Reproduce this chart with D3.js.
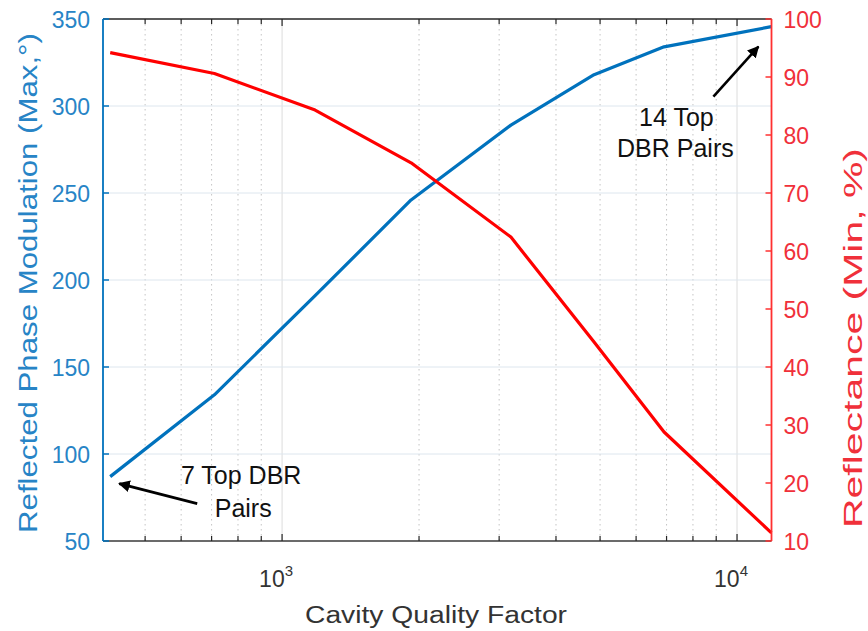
<!DOCTYPE html>
<html>
<head>
<meta charset="utf-8">
<script src="https://cdn.jsdelivr.net/npm/d3@7"></script>
<style>
  html, body { margin: 0; padding: 0; background: #fff; }
  svg { display: block; }
  text { font-family: "Liberation Sans", Arial, sans-serif; }
</style>
</head>
<body>
<svg id="chart" width="868" height="631"></svg>
<script>
// Cavity quality factor for 7 … 14 top DBR pairs
const qualityFactor = [419, 710, 1182, 1921, 3184, 4850, 6912, 11900];
// Maximum reflected phase modulation (degrees)
const phaseMax = [87, 134, 191, 246, 289, 318, 334, 345.6];
// Minimum reflectance (%)
const reflectanceMin = [94.2, 90.6, 84.3, 75.2, 62.4, 44.3, 28.8, 11.4];

const leftTicks = [50, 100, 150, 200, 250, 300, 350];
const rightTicks = [10, 20, 30, 40, 50, 60, 70, 80, 90, 100];
const xMajorTicks = [1e3, 1e4];
const xMinorTicks = [500, 600, 700, 800, 900, 2000, 3000, 4000, 5000, 6000, 7000, 8000, 9000];

const W = 868, H = 631;
const m = { left: 103, right: 96.5, top: 19, bottom: 90 };
const x0 = m.left, x1 = W - m.right, y0 = m.top, y1 = H - m.bottom;

const BLUE = "#0072BD", BLUE_TXT = "#2784c6";
const RED = "#ff0000", RED_TXT = "#f0303a";

const svg = d3.select("#chart");

const x = d3.scaleLog().domain([404, 11906]).range([x0, x1]);
const yL = d3.scaleLinear().domain([50, 350]).range([y1, y0]);
const yR = d3.scaleLinear().domain([10, 100]).range([y1, y0]);

// grid
const grid = svg.append("g");
grid.selectAll(".gm").data(xMinorTicks).join("line")
  .attr("x1", d => x(d)).attr("x2", d => x(d)).attr("y1", y0).attr("y2", y1)
  .attr("stroke", "#c4c4c4").attr("stroke-width", 1).attr("stroke-dasharray", "1.5,3.5");
grid.selectAll(".gM").data(xMajorTicks).join("line")
  .attr("x1", d => x(d)).attr("x2", d => x(d)).attr("y1", y0).attr("y2", y1)
  .attr("stroke", "#dcdcdc").attr("stroke-width", 1);
grid.selectAll(".gh").data(leftTicks.slice(1, -1)).join("line")
  .attr("x1", x0).attr("x2", x1).attr("y1", d => yL(d)).attr("y2", d => yL(d))
  .attr("stroke", "#dde6ee").attr("stroke-width", 1);

// data lines
const line = (ys, sy) => d3.line().x((d, i) => x(qualityFactor[i])).y(d => sy(d))(ys);
svg.append("path").attr("d", line(phaseMax, yL))
  .attr("fill", "none").attr("stroke", BLUE).attr("stroke-width", 3.2).attr("stroke-linejoin", "round");
svg.append("path").attr("d", line(reflectanceMin, yR))
  .attr("fill", "none").attr("stroke", RED).attr("stroke-width", 3.2).attr("stroke-linejoin", "round");

// top and bottom axes (log scale, inward ticks)
const allX = xMajorTicks.concat(xMinorTicks);
const axes = svg.append("g");
axes.append("line").attr("x1", x0).attr("x2", x1).attr("y1", y0).attr("y2", y0)
  .attr("stroke", "#262626").attr("stroke-width", 1.3);
axes.append("line").attr("x1", x0).attr("x2", x1).attr("y1", y1).attr("y2", y1)
  .attr("stroke", "#3a3a3a").attr("stroke-width", 1.6);
axes.selectAll(".tt").data(allX).join("line")
  .attr("x1", d => x(d)).attr("x2", d => x(d)).attr("y1", y0).attr("y2", d => y0 + (xMajorTicks.includes(d) ? 7 : 5))
  .attr("stroke", "#262626").attr("stroke-width", 1.2);
axes.selectAll(".bt").data(allX).join("line")
  .attr("x1", d => x(d)).attr("x2", d => x(d)).attr("y1", y1).attr("y2", d => y1 - (xMajorTicks.includes(d) ? 7 : 5))
  .attr("stroke", "#262626").attr("stroke-width", 1.2);

// x tick labels 10^n
const xl = axes.selectAll(".xl").data(xMajorTicks).join("text")
  .attr("x", d => x(d) - 6).attr("y", y1 + 46)
  .attr("text-anchor", "middle").attr("fill", "#333").attr("font-size", 23);
xl.append("tspan").text("10");
xl.append("tspan").attr("dy", -11).attr("font-size", 15).text(d => Math.round(Math.log10(d)));

// left axis (blue)
axes.append("line").attr("x1", x0).attr("x2", x0).attr("y1", y0).attr("y2", y1)
  .attr("stroke", BLUE).attr("stroke-width", 1.8);
axes.selectAll(".lt").data(leftTicks).join("line")
  .attr("x1", x0).attr("x2", x0 + 6).attr("y1", d => yL(d)).attr("y2", d => yL(d))
  .attr("stroke", BLUE).attr("stroke-width", 1.5);
axes.selectAll(".ll").data(leftTicks).join("text")
  .attr("x", x0 - 13).attr("y", d => yL(d) + 8.5)
  .attr("text-anchor", "end").attr("fill", BLUE_TXT).attr("font-size", 23)
  .text(d => d);

// right axis (red)
axes.append("line").attr("x1", x1).attr("x2", x1).attr("y1", y0).attr("y2", y1)
  .attr("stroke", "#ff3030").attr("stroke-width", 1.8);
axes.selectAll(".rt").data(rightTicks).join("line")
  .attr("x1", x1).attr("x2", x1 - 6).attr("y1", d => yR(d)).attr("y2", d => yR(d))
  .attr("stroke", "#ff3030").attr("stroke-width", 1.5);
axes.selectAll(".rl").data(rightTicks).join("text")
  .attr("x", x1 + 12).attr("y", d => yR(d) + 8.5)
  .attr("text-anchor", "start").attr("fill", RED_TXT).attr("font-size", 23)
  .text(d => d);

// axis titles
svg.append("text")
  .attr("transform", "translate(37,283) rotate(-90)")
  .attr("text-anchor", "middle").attr("fill", BLUE_TXT).attr("font-size", 26)
  .attr("textLength", 500).attr("lengthAdjust", "spacingAndGlyphs")
  .text("Reflected Phase Modulation (Max,°)");
svg.append("text")
  .attr("transform", "translate(862,338) rotate(-90)")
  .attr("text-anchor", "middle").attr("fill", RED_TXT).attr("font-size", 26)
  .attr("textLength", 380).attr("lengthAdjust", "spacingAndGlyphs")
  .text("Reflectance (Min, %)");
svg.append("text")
  .attr("x", 436).attr("y", 623)
  .attr("text-anchor", "middle").attr("fill", "#333").attr("font-size", 23)
  .attr("textLength", 262).attr("lengthAdjust", "spacingAndGlyphs")
  .text("Cavity Quality Factor");

// annotations with arrows
const defs = svg.append("defs");
defs.append("marker").attr("id", "ah")
  .attr("viewBox", "0 0 10 10").attr("refX", 9).attr("refY", 5)
  .attr("markerWidth", 4.5).attr("markerHeight", 4.5).attr("orient", "auto")
  .append("path").attr("d", "M0,0 L10,5 L0,10 z").attr("fill", "#000");

const ann = svg.append("g").attr("font-family", "Lato, 'Open Sans', sans-serif")
  .attr("font-size", 25).attr("fill", "#111").attr("text-anchor", "middle");

// 7 pairs: first data point
const p0 = [x(qualityFactor[0]), yL(phaseMax[0])];
ann.append("line")
  .attr("x1", p0[0] + 87).attr("y1", p0[1] + 27)
  .attr("x2", p0[0] + 9).attr("y2", p0[1] + 7)
  .attr("stroke", "#000").attr("stroke-width", 2.6).attr("marker-end", "url(#ah)");
ann.append("text").attr("x", p0[0] + 131).attr("y", p0[1] + 7).text("7 Top DBR");
ann.append("text").attr("x", p0[0] + 133).attr("y", p0[1] + 40).text("Pairs");

// 14 pairs: last data point
const pN = [x(qualityFactor[7]), yL(phaseMax[7])];
ann.append("line")
  .attr("x1", pN[0] - 58).attr("y1", pN[1] + 70)
  .attr("x2", pN[0] - 13).attr("y2", pN[1] + 20)
  .attr("stroke", "#000").attr("stroke-width", 2.6).attr("marker-end", "url(#ah)");
ann.append("text").attr("x", pN[0] - 95).attr("y", pN[1] + 99).text("14 Top");
ann.append("text").attr("x", pN[0] - 96).attr("y", pN[1] + 130).text("DBR Pairs");
</script>
</body>
</html>
